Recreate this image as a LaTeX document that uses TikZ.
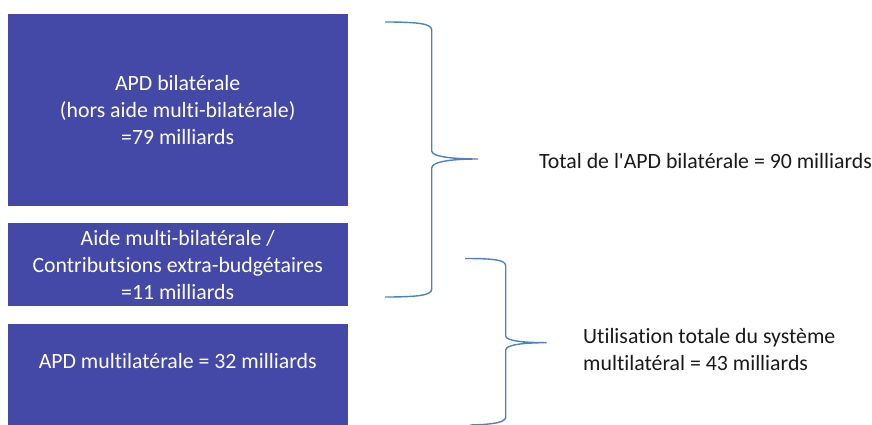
\documentclass[tikz,border=0pt]{standalone}
\usepackage{fontspec}
\setmainfont{Carlito}[Ligatures={TeXOff,NoCommon}]
\definecolor{boxblue}{RGB}{68,72,167}
\definecolor{bracecol}{RGB}{79,129,189}
\begin{document}
\begin{tikzpicture}[x=1pt,y=-1pt,
  bluebox/.style={fill=boxblue,draw=none,inner sep=0pt},
  boxtext/.style={text=white,align=center,font=\fontsize{21.8}{26.8}\selectfont,inner sep=0pt},
  sidetext/.style={text=black!90,align=left,font=\fontsize{21.8}{26.8}\selectfont,inner sep=0pt,anchor=base west},
  bracepath/.style={draw=bracecol,line width=1.4pt}]
\useasboundingbox (0,0) rectangle (872,425);
\fill[bluebox] (8,14) rectangle (347.5,205.5);
\node[boxtext] (t1) at (177.7,110) {APD bilatérale\\(hors aide multi-bilatérale)\\=79 milliards};
\fill[bluebox] (8,223) rectangle (347.5,305.5);
\node[boxtext] (t2) at (177.7,265) {Aide multi-bilatérale /\\Contributsions extra-budgétaires\\=11 milliards};
\fill[bluebox] (8,324) rectangle (347.5,425);
\node[boxtext,anchor=base] (t3) at (177.7,368) {APD multilatérale = 32 milliards};
% brace 1
\path[bracepath] (385,22) .. controls (420,22) and (431.7,24) .. (431.7,30)
  -- (431.7,151) .. controls (431.7,157) and (455,159) .. (478,159)
  .. controls (455,159) and (431.7,161) .. (431.7,168)
  -- (431.7,289) .. controls (431.7,295) and (420,297) .. (385,297);
% brace 2
\path[bracepath] (465,258.5) .. controls (495,258.5) and (505.7,260) .. (505.7,266)
  -- (505.7,336) .. controls (505.7,341) and (525,342.7) .. (546.7,342.7)
  .. controls (525,342.7) and (505.7,344.5) .. (505.7,350)
  -- (505.7,417) .. controls (505.7,422) and (495,424.5) .. (470,425);
\node[sidetext] (s1) at (539,168.5) {Total de l'APD bilatérale = 90 milliards};
\node[sidetext] (s2) at (583,343) {Utilisation totale du système};
\node[sidetext] (s3) at (583,370.5) {multilatéral = 43 milliards};
\end{tikzpicture}
\end{document}
